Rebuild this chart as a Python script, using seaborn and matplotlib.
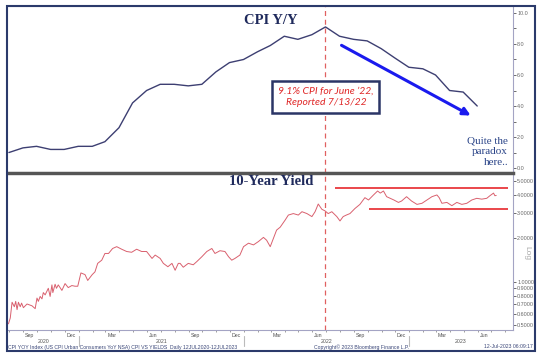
import matplotlib
matplotlib.use("Agg")
import matplotlib.pyplot as plt
import matplotlib.dates as mdates
import matplotlib.patches as patches
import matplotlib.ticker as mticker
import numpy as np
import pandas as pd
import seaborn as sns

# CPI Y/Y, monthly (plotted at month end), Jul 2020 .. May 2023
cpi_dates = pd.date_range("2020-07-31", "2023-05-31", freq="ME")
cpi_values = [1.0, 1.3, 1.4, 1.2, 1.2, 1.4, 1.4, 1.7, 2.6, 4.2, 5.0, 5.4,
              5.4, 5.3, 5.4, 6.2, 6.8, 7.0, 7.5, 7.9, 8.5, 8.3, 8.6, 9.1,
              8.5, 8.3, 8.2, 7.7, 7.1, 6.5, 6.4, 6.0, 5.0, 4.9, 4.0]

# 10-year yield
yld_dates = ["2020-07-30", "2020-08-03", "2020-08-07", "2020-08-12", "2020-08-15", "2020-08-18",
             "2020-08-21", "2020-08-25", "2020-08-28",
             "2020-09-01", "2020-09-09", "2020-09-20", "2020-09-27", "2020-10-01", "2020-10-04",
             "2020-10-08", "2020-10-12", "2020-10-15",
             "2020-10-19", "2020-10-26", "2020-10-30", "2020-11-03", "2020-11-05", "2020-11-10",
             "2020-11-13", "2020-11-17",
             "2020-11-25", "2020-12-02", "2020-12-09", "2020-12-17", "2020-12-24", "2020-12-30",
             "2021-01-06", "2021-01-15", "2021-01-21", "2021-01-31", "2021-02-06", "2021-02-12",
             "2021-02-21", "2021-02-28", "2021-03-08", "2021-03-17", "2021-03-26", "2021-04-06",
             "2021-04-17", "2021-04-28", "2021-05-09", "2021-05-20", "2021-05-31", "2021-06-12",
             "2021-06-19", "2021-06-30", "2021-07-07", "2021-07-17", "2021-07-22", "2021-07-26",
             "2021-08-02", "2021-08-09", "2021-08-13", "2021-08-20", "2021-08-31", "2021-09-11",
             "2021-09-19", "2021-09-30", "2021-10-11", "2021-10-22", "2021-10-29", "2021-11-09",
             "2021-11-20", "2021-11-28", "2021-12-05", "2021-12-12", "2021-12-23", "2021-12-31",
             "2022-01-11", "2022-01-22", "2022-02-02", "2022-02-13", "2022-02-20", "2022-02-28",
             "2022-03-07", "2022-03-14", "2022-03-22", "2022-04-02", "2022-04-09", "2022-04-20",
             "2022-05-01", "2022-05-09", "2022-05-20", "2022-05-31", "2022-06-07", "2022-06-14",
             "2022-06-22", "2022-06-29", "2022-07-06", "2022-07-14", "2022-07-25", "2022-08-01",
             "2022-08-08", "2022-08-15", "2022-08-23", "2022-09-03", "2022-09-14", "2022-09-25",
             "2022-10-03", "2022-10-14", "2022-10-23", "2022-10-29", "2022-11-05", "2022-11-12",
             "2022-11-20", "2022-11-28", "2022-12-08", "2022-12-15", "2022-12-26", "2023-01-06",
             "2023-01-18", "2023-01-29", "2023-02-09", "2023-02-20", "2023-03-03", "2023-03-08",
             "2023-03-14", "2023-03-25", "2023-04-05", "2023-04-16", "2023-04-27", "2023-05-08",
             "2023-05-19", "2023-05-30", "2023-06-10", "2023-06-21", "2023-06-28", "2023-07-06",
             "2023-07-09", "2023-07-12"]
yld_values = [0.51, 0.56, 0.72, 0.67, 0.73, 0.64,
              0.72, 0.67, 0.71,
              0.66, 0.70, 0.68, 0.65, 0.77, 0.73,
              0.79, 0.76, 0.84,
              0.81, 0.90, 0.79, 0.95, 0.84, 0.96,
              0.90, 0.95,
              0.87, 0.97, 0.91, 0.94, 0.93, 0.93,
              1.15, 1.12, 1.02, 1.12, 1.17, 1.34,
              1.41, 1.57, 1.57, 1.70, 1.75, 1.68,
              1.62, 1.60, 1.68, 1.62, 1.62, 1.45,
              1.53, 1.45, 1.34, 1.27, 1.31, 1.34,
              1.20, 1.34, 1.34, 1.26, 1.34, 1.31,
              1.38, 1.49, 1.62, 1.70, 1.57, 1.64,
              1.62, 1.49, 1.41, 1.45, 1.53, 1.75,
              1.85, 1.80, 1.90, 2.03, 1.94, 1.75,
              2.00, 2.28, 2.39, 2.68, 2.90, 2.97,
              2.90, 3.06, 2.97, 2.83, 3.06, 3.46,
              3.18, 3.10, 2.97, 3.06, 2.83, 2.64,
              2.83, 2.90, 2.97, 3.22, 3.44, 3.83,
              3.69, 4.00, 4.26, 4.12, 4.26, 3.89,
              3.79, 3.69, 3.55, 3.63, 3.89, 3.63,
              3.44, 3.50, 3.69, 3.89, 4.00, 3.83,
              3.50, 3.55, 3.37, 3.55, 3.44, 3.50,
              3.69, 3.79, 3.74, 3.79, 3.95, 4.12,
              3.95, 3.97]

# range lines drawn on the yield panel
hi_band = 4.45
lo_band = 3.18
hi_start, lo_start, band_end = "2022-07-20", "2022-10-03", "2023-08-07"
cpi_peak_date = "2022-06-30"

month_labels = {3: "Mar", 6: "Jun", 9: "Sep", 12: "Dec"}
year_labels = ["2020", "2021", "2022", "2023"]
year_label_dates = ["2020-10-15", "2021-07-02", "2022-07-02", "2023-04-25"]
year_breaks = ["2021-01-01", "2022-01-01", "2023-01-01"]

cpi_df = pd.DataFrame({"date": cpi_dates, "cpi": cpi_values})
yld_df = pd.DataFrame({"date": pd.to_datetime(yld_dates), "yld": yld_values})

sns.set_style("white")
plt.rcParams["font.family"] = ["Liberation Sans", "DejaVu Sans"]

W, H = 545, 357
fig = plt.figure(figsize=(W / 100, H / 100), dpi=100)
ax1 = fig.add_axes([8 / W, 1 - 173 / H, 505 / W, 167 / H])
ax2 = fig.add_axes([8 / W, 1 - 330 / H, 505 / W, 156 / H])

navy = "#2b3566"
spine_c = "#a4a4c4"
xlim = (pd.Timestamp("2020-07-29"), pd.Timestamp("2023-08-18"))

# top panel: CPI
sns.lineplot(data=cpi_df, x="date", y="cpi", ax=ax1, color="#3d3f72", lw=1.0)
ax1.set_xlim(*xlim)
ax1.set_ylim(-0.32, 10.45)
ax1.axvline(pd.Timestamp(cpi_peak_date), color="#e06060", ls=(0, (4, 3)), lw=0.9)

# bottom panel: 10y yield (log)
sns.lineplot(data=yld_df, x="date", y="yld", ax=ax2, color="#d9606e", lw=0.7)
ax2.set_yscale("log")
ax2.set_xlim(*xlim)
ax2.set_ylim(0.462, 5.59)
ax2.axvline(pd.Timestamp(cpi_peak_date), color="#e06060", ls=(0, (4, 3)), lw=0.9)
ax2.hlines(hi_band, pd.Timestamp(hi_start), pd.Timestamp(band_end), color="#e8383d", lw=1.3)
ax2.hlines(lo_band, pd.Timestamp(lo_start), pd.Timestamp(band_end), color="#e8383d", lw=1.3)

for ax in (ax1, ax2):
    ax.set_xlabel("")
    ax.set_ylabel("")
    ax.yaxis.tick_right()
    ax.spines["left"].set_visible(False)
    for s in ("right", "top", "bottom"):
        ax.spines[s].set_color(spine_c)
        ax.spines[s].set_linewidth(0.8)
    ax.tick_params(axis="y", which="both", right=True, direction="out", length=2,
                   width=0.6, color="#555555", labelsize=3.9, labelcolor="#666666", pad=1)
    ax.xaxis.set_major_locator(mdates.MonthLocator())
    ax.xaxis.set_minor_locator(mdates.MonthLocator(bymonth=[3, 6, 9, 12], bymonthday=15))

ax1.spines["bottom"].set_color("#555555")
ax1.spines["bottom"].set_linewidth(2.5)
ax2.spines["top"].set_color("#555555")
ax2.spines["top"].set_linewidth(1.0)

ax1.yaxis.set_major_locator(mticker.MultipleLocator(2))
ax1.yaxis.set_minor_locator(mticker.MultipleLocator(1))
ax1.yaxis.set_major_formatter(mticker.FormatStrFormatter("%.1f"))
ax1.tick_params(axis="x", which="both", bottom=False, labelbottom=False)

ax2.yaxis.set_major_locator(mticker.FixedLocator([0.5, 0.6, 0.7, 0.8, 0.9, 1.0, 2.0, 3.0, 4.0, 5.0]))
ax2.yaxis.set_minor_locator(mticker.NullLocator())
ax2.yaxis.set_major_formatter(mticker.FormatStrFormatter("%.4f"))
ax2.tick_params(axis="x", which="major", bottom=True, direction="out", length=1.5,
                width=0.5, color="#777777", labelbottom=False)
ax2.tick_params(axis="x", which="minor", bottom=True, length=0, labelsize=3.8,
                labelcolor="#555555", pad=2)
ax2.xaxis.set_minor_formatter(mticker.FuncFormatter(
    lambda v, p: month_labels.get(mdates.num2date(v).month, "")))

xt = ax2.get_xaxis_transform()
for lab, d in zip(year_labels, year_label_dates):
    ax2.text(pd.Timestamp(d), -0.075, lab, transform=xt, ha="center", va="center",
             fontsize=3.8, color="#555555", clip_on=False)
for d in year_breaks:
    ax2.plot([pd.Timestamp(d)] * 2, [-0.04, -0.1], transform=xt, color="#bbbbbb",
             lw=0.8, clip_on=False)

# titles and annotations
ax1.text(0.521, 0.915, "CPI Y/Y", transform=ax1.transAxes, ha="center", va="center",
         fontsize=10.5, fontweight="bold", color="#1f2a5c", family="Liberation Serif")
ax2.text(0.521, 0.95, "10-Year Yield", transform=ax2.transAxes, ha="center", va="center",
         fontsize=10.5, fontweight="bold", color="#1f2a5c", family="Liberation Serif")

ax1.text(pd.Timestamp("2022-07-01"), 4.6, "9.1% CPI for June \u201922,\nReported 7/13/22",
         ha="center", va="center", fontsize=7.5, style="italic", color="#e02828",
         family="Lato", linespacing=1.35,
         bbox=dict(boxstyle="square,pad=0.55", fc="white", ec=navy, lw=1.8))

ax1.annotate("", xy=(pd.Timestamp("2023-05-22"), 3.3), xytext=(pd.Timestamp("2022-07-30"), 8.0),
             arrowprops=dict(arrowstyle="-|>", color="#1a1aee", lw=2.2, mutation_scale=11))

ax1.text(pd.Timestamp("2023-08-07"), 1.05, "Quite the\nparadox\nhere..", ha="right", va="center",
         fontsize=8, color="#2a4488", family="Liberation Serif", linespacing=1.3,
         multialignment="right")

fig.text(527 / W, 1 - 253 / H, "Log", rotation=270, ha="center", va="center",
         fontsize=6, color="#aaaaaa")

# footer
foot_c = "#3a4678"
fig.text(8 / W, 1 - 347 / H,
         "CPI YOY Index (US CPI Urban Consumers YoY NSA) CPI VS YIELDS  Daily 12JUL2020-12JUL2023",
         ha="left", va="center", fontsize=3.7, color=foot_c)
fig.text(362 / W, 1 - 347 / H, "Copyright\u00a9 2023 Bloomberg Finance L.P.",
         ha="center", va="center", fontsize=3.7, color=foot_c)
fig.text(533 / W, 1 - 347 / H, "12-Jul-2023 06:09:17", ha="right", va="center",
         fontsize=3.7, color=foot_c)

fig.patches.append(patches.Rectangle((7 / W, 1 - 351 / H), 528 / W, 345 / H,
                                     transform=fig.transFigure, fill=False,
                                     ec="#2b3a6b", lw=1.5))

fig.savefig("out.png", dpi=100)
